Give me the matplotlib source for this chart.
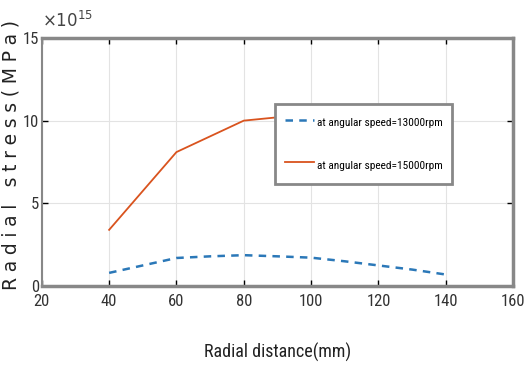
import matplotlib
matplotlib.use('Agg')
import matplotlib.pyplot as plt

# radial stress values (x 1e15 MPa)
radius = [40, 50, 60, 70, 80, 90, 100, 110, 120, 130, 140]
speed13000 = [0.8, 1.25, 1.7, 1.8, 1.87, 1.8, 1.72, 1.5, 1.25, 1.0, 0.7]
radius15 = [40, 60, 80, 100, 120, 140]
speed15000 = [3.4, 8.1, 10.0, 10.4, 10.5, 10.45]
labels = ['at angular speed=13000rpm', 'at angular speed=15000rpm']

# narrow font if there is one, plain sans otherwise
font = ['Liberation Sans Narrow', 'Roboto Condensed', 'Liberation Sans']

fig = plt.figure(figsize=(5.29, 3.75), dpi=100)
ax = fig.add_axes([0.079, 0.237, 0.891, 0.662])

ax.plot(radius, speed13000, '--', color='#2b78b8', lw=1.8, dashes=(3, 2.5), label=labels[0])
ax.plot(radius15, speed15000, '-', color='#d9531e', lw=1.3, label=labels[1])

ax.set_xlim(20, 160)
ax.set_ylim(0, 15)
ax.set_xticks(range(20, 161, 20))
ax.set_yticks([0, 5, 10, 15])
ax.grid(True, color='#e3e3e3', lw=0.8)
ax.tick_params(direction='in', length=4, colors='black', labelsize=12, width=1,
               top=True, right=True)
ax.tick_params(axis='x', pad=6)
ax.tick_params(axis='y', pad=2)
for lab in ax.get_xticklabels() + ax.get_yticklabels():
    lab.set_family(font)
    lab.set_color('#333333')
for s in ax.spines.values():
    s.set_color('#888888')
    s.set_linewidth(2.5)
ax.spines['left'].set_linewidth(1.5)

ax.set_xlabel('Radial distance(mm)', family=font, fontsize=13, color='#222222', labelpad=24)
# spread letters out like the original label
ylab = '\u2009\u200a'.join('Radial stress(MPa)')
ax.set_ylabel(ylab, fontsize=13.5, color='#222222')
ax.yaxis.set_label_coords(-0.046, 0.53)
ax.text(0.0, 1.03, r'$\times10^{15}$', transform=ax.transAxes, fontsize=12,
        color='#444444', family=font, ha='left', va='bottom')

leg = ax.legend(loc='upper left', bbox_to_anchor=(0.495, 0.734), prop={'family': font, 'size': 8.2},
                fancybox=False, framealpha=1, edgecolor='#888888', handlelength=2.6,
                handleheight=2.0, borderpad=0.85, labelspacing=2.2, handletextpad=0.2,
                borderaxespad=0)
leg.get_frame().set_linewidth(2)

fig.savefig('out.png', dpi=100)
